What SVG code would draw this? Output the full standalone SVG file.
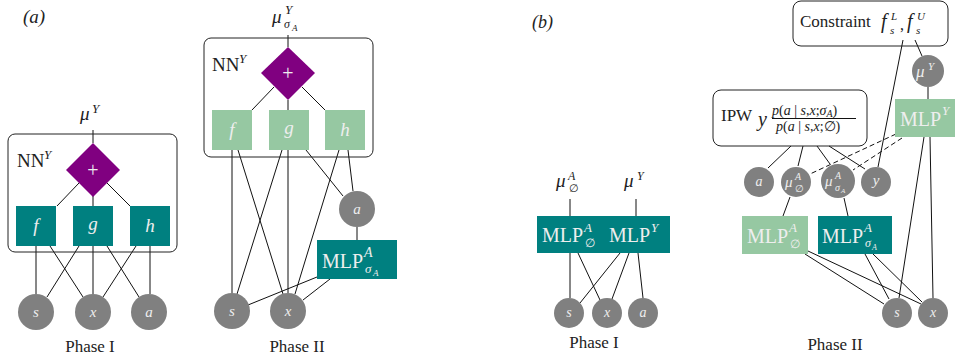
<svg xmlns="http://www.w3.org/2000/svg" width="955" height="358" viewBox="0 0 955 358" font-family="'Liberation Serif', 'DejaVu Serif', serif">
<style>
text{font-family:'Liberation Serif', 'DejaVu Serif', serif;fill:#222}
.it{font-style:italic}
.up{font-style:normal}
.w{fill:#eeeeee}
.teal{fill:#008080}
.lg{fill:#96c8a2}
.pur{fill:#800080}
.cir{fill:#808080}
.frame{fill:none;stroke:#222;stroke-width:1}
.ln{stroke:#111;stroke-width:1;fill:none}
.dash{stroke:#111;stroke-width:1;fill:none;stroke-dasharray:5,3}
.ph{font-size:17px}
</style>
<rect width="955" height="358" fill="#fff"/>

<text x="23" y="23" font-size="19" class="it">(a)</text>
<text x="532" y="28" font-size="18" class="it">(b)</text>

<!-- connectors -->
<g id="connectors">
  <line class="ln" x1="93" y1="130" x2="93" y2="143"/>
  <line class="ln" x1="79" y1="183" x2="57" y2="206"/>
  <line class="ln" x1="93" y1="196" x2="93" y2="206"/>
  <line class="ln" x1="107" y1="183" x2="130" y2="206"/>
  <line class="ln" x1="36" y1="246" x2="36" y2="294"/>
  <line class="ln" x1="50" y1="246" x2="83" y2="297"/>
  <line class="ln" x1="79" y1="246" x2="47" y2="297"/>
  <line class="ln" x1="93" y1="246" x2="93" y2="294"/>
  <line class="ln" x1="107" y1="246" x2="139" y2="297"/>
  <line class="ln" x1="136" y1="246" x2="103" y2="297"/>
  <line class="ln" x1="150" y1="246" x2="150" y2="294"/>
  <line class="ln" x1="288" y1="35" x2="288" y2="47"/>
  <line class="ln" x1="274" y1="87" x2="252" y2="110"/>
  <line class="ln" x1="288" y1="100" x2="288" y2="110"/>
  <line class="ln" x1="302" y1="87" x2="325" y2="110"/>
  <line class="ln" x1="232" y1="150" x2="232" y2="293"/>
  <line class="ln" x1="238" y1="150" x2="283" y2="294"/>
  <line class="ln" x1="282" y1="150" x2="237" y2="294"/>
  <line class="ln" x1="288" y1="150" x2="288" y2="293"/>
  <line class="ln" x1="306" y1="150" x2="343" y2="196"/>
  <line class="ln" x1="339" y1="150" x2="295" y2="294"/>
  <line class="ln" x1="348" y1="150" x2="353" y2="191"/>
  <line class="ln" x1="357" y1="227" x2="357" y2="240"/>
  <line class="ln" x1="317" y1="277" x2="248" y2="305"/>
  <line class="ln" x1="330" y1="279" x2="303" y2="300"/>
  <line class="ln" x1="570" y1="199" x2="570" y2="216"/>
  <line class="ln" x1="636" y1="199" x2="636" y2="216"/>
  <line class="ln" x1="570" y1="253" x2="570" y2="298"/>
  <line class="ln" x1="578" y1="253" x2="600" y2="300"/>
  <line class="ln" x1="620" y1="253" x2="580" y2="303"/>
  <line class="ln" x1="629" y1="253" x2="612" y2="299"/>
  <line class="ln" x1="638" y1="253" x2="643" y2="298"/>
  <line class="ln" x1="915" y1="40" x2="922" y2="56"/>
  <line class="ln" x1="928" y1="87" x2="928" y2="99"/>
  <line class="ln" x1="903" y1="40" x2="878" y2="167"/>
  <line class="ln" x1="791" y1="146" x2="768" y2="168"/>
  <line class="ln" x1="803" y1="146" x2="798" y2="166"/>
  <line class="ln" x1="817" y1="146" x2="830" y2="164"/>
  <line class="ln" x1="829" y1="146" x2="865" y2="169"/>
  <line class="dash" x1="896" y1="134" x2="810" y2="174"/>
  <line class="dash" x1="902" y1="138" x2="853" y2="170"/>
  <line class="ln" x1="924" y1="137" x2="899" y2="298"/>
  <line class="ln" x1="930" y1="137" x2="933" y2="298"/>
  <line class="ln" x1="790" y1="197" x2="783" y2="216"/>
  <line class="ln" x1="844" y1="198" x2="848" y2="216"/>
  <line class="ln" x1="805" y1="254" x2="884" y2="304"/>
  <line class="ln" x1="808" y1="251" x2="921" y2="304"/>
  <line class="ln" x1="865" y1="254" x2="889" y2="299"/>
  <line class="ln" x1="873" y1="254" x2="922" y2="302"/>
</g>

<g id="a1-muY">
  <text class="it" font-size="19"><tspan x="80" y="120">μ</tspan><tspan x="92" y="113" font-size="13">Y</tspan></text>
</g>
<g id="a1-NN">
  <rect class="frame" x="8" y="134" width="169" height="118" rx="7"/>
  <text font-size="19"><tspan x="17" y="167">NN</tspan><tspan x="44" y="159" font-size="13" class="it">Y</tspan></text>
</g>
<g id="a1-plus">
  <polygon class="pur" points="93,143 120,170 93,197 66,170"/>
  <text x="93" y="177" font-size="20" class="w" text-anchor="middle">+</text>
</g>
<g id="a1-f"><rect class="teal" x="16" y="206" width="40" height="40"/><text x="36" y="232" font-size="19" class="it w" text-anchor="middle">f</text></g>
<g id="a1-g"><rect class="teal" x="73" y="206" width="40" height="40"/><text x="93" y="230" font-size="19" class="it w" text-anchor="middle">g</text></g>
<g id="a1-h"><rect class="teal" x="130" y="206" width="40" height="40"/><text x="150" y="232" font-size="19" class="it w" text-anchor="middle">h</text></g>
<g id="a1-s"><circle class="cir" cx="36" cy="312" r="18"/><text x="36" y="317" font-size="15" class="it w" text-anchor="middle">s</text></g>
<g id="a1-x"><circle class="cir" cx="93" cy="312" r="18"/><text x="93" y="317" font-size="15" class="it w" text-anchor="middle">x</text></g>
<g id="a1-a"><circle class="cir" cx="149" cy="312" r="18"/><text x="149" y="317" font-size="15" class="it w" text-anchor="middle">a</text></g>
<text x="90" y="352" class="ph" text-anchor="middle">Phase I</text>

<g id="a2-mu">
  <text class="it" font-size="19"><tspan x="272" y="23">μ</tspan><tspan x="285" y="14" font-size="13">Y</tspan><tspan x="284" y="28" font-size="12">σ</tspan><tspan x="292" y="31" font-size="9">A</tspan></text>
</g>
<g id="a2-NN">
  <rect class="frame" x="204" y="38" width="169" height="119" rx="7"/>
  <text font-size="19"><tspan x="212" y="71">NN</tspan><tspan x="239" y="63" font-size="13" class="it">Y</tspan></text>
</g>
<g id="a2-plus">
  <polygon class="pur" points="288,47 315,73 288,100 261,73"/>
  <text x="288" y="80" font-size="20" class="w" text-anchor="middle">+</text>
</g>
<g id="a2-f"><rect class="lg" x="212" y="110" width="40" height="40"/><text x="232" y="136" font-size="19" class="it w" text-anchor="middle">f</text></g>
<g id="a2-g"><rect class="lg" x="269" y="110" width="40" height="40"/><text x="289" y="134" font-size="19" class="it w" text-anchor="middle">g</text></g>
<g id="a2-h"><rect class="lg" x="325" y="110" width="40" height="40"/><text x="345" y="136" font-size="19" class="it w" text-anchor="middle">h</text></g>
<g id="a2-a"><circle class="cir" cx="357" cy="209" r="18"/><text x="357" y="214" font-size="15" class="it w" text-anchor="middle">a</text></g>
<g id="a2-MLP">
  <rect class="teal" x="317" y="240" width="80" height="39"/>
  <text class="w" font-size="20"><tspan x="322" y="268">MLP</tspan><tspan x="364" y="257" font-size="14" class="it">A</tspan><tspan x="365" y="273" font-size="13" class="it">σ</tspan><tspan x="373" y="276" font-size="9" class="it">A</tspan></text>
</g>
<g id="a2-s"><circle class="cir" cx="232" cy="311" r="18"/><text x="232" y="316" font-size="15" class="it w" text-anchor="middle">s</text></g>
<g id="a2-x"><circle class="cir" cx="288" cy="311" r="18"/><text x="288" y="316" font-size="15" class="it w" text-anchor="middle">x</text></g>
<text x="297" y="352" class="ph" text-anchor="middle">Phase II</text>

<g id="b1-muA">
  <text class="it" font-size="19"><tspan x="556" y="187">μ</tspan><tspan x="568" y="180" font-size="12">A</tspan><tspan x="569" y="192" font-size="11" class="up">∅</tspan></text>
</g>
<g id="b1-muY">
  <text class="it" font-size="19"><tspan x="624" y="187">μ</tspan><tspan x="637" y="180" font-size="12">Y</tspan></text>
</g>
<g id="b1-MLP">
  <rect class="teal" x="537" y="216" width="133" height="37"/>
  <text class="w" font-size="20"><tspan x="542" y="242">MLP</tspan><tspan x="584" y="232" font-size="13" class="it">A</tspan><tspan x="585" y="247" font-size="12">∅</tspan></text>
  <text class="w" font-size="20"><tspan x="609" y="242">MLP</tspan><tspan x="651" y="232" font-size="13" class="it">Y</tspan></text>
</g>
<g id="b1-s"><circle class="cir" cx="569" cy="313" r="15"/><text x="569" y="317" font-size="14" class="it w" text-anchor="middle">s</text></g>
<g id="b1-x"><circle class="cir" cx="607" cy="313" r="15"/><text x="607" y="317" font-size="14" class="it w" text-anchor="middle">x</text></g>
<g id="b1-a"><circle class="cir" cx="643" cy="313" r="15"/><text x="643" y="317" font-size="14" class="it w" text-anchor="middle">a</text></g>
<text x="594" y="348" class="ph" text-anchor="middle">Phase I</text>

<g id="b2-constraint">
  <rect class="frame" x="793" y="1" width="155" height="45" rx="8"/>
  <text font-size="17"><tspan x="800" y="27">Constraint</tspan><tspan x="881" y="28" font-size="20" class="it">f</tspan><tspan x="891" y="20" font-size="11" class="it">L</tspan><tspan x="890" y="34" font-size="11" class="it">s</tspan><tspan x="900" y="30" font-size="16">,</tspan><tspan x="907" y="28" font-size="20" class="it">f</tspan><tspan x="917" y="20" font-size="11" class="it">U</tspan><tspan x="916" y="34" font-size="11" class="it">s</tspan></text>
</g>
<g id="b2-muY">
  <circle class="cir" cx="928" cy="71" r="16"/>
  <text class="it w" font-size="17"><tspan x="916" y="77">μ</tspan><tspan x="928" y="70" font-size="11">Y</tspan></text>
</g>
<g id="b2-MLPY">
  <rect class="lg" x="895" y="99" width="65" height="38"/>
  <text class="w" font-size="20"><tspan x="900" y="126">MLP</tspan><tspan x="942" y="115" font-size="13" class="it">Y</tspan></text>
</g>
<g id="b2-IPW">
  <rect class="frame" x="713" y="90" width="154" height="56" rx="8"/>
  <text x="721" y="121" font-size="17">IPW</text>
  <text x="758" y="126" font-size="20" class="it">y</text>
  <text x="772" y="115" font-size="14" class="it">p<tspan class="up">(</tspan>a<tspan class="up"> | </tspan>s<tspan class="up">,</tspan>x<tspan class="up">;</tspan>σ<tspan font-size="10" dy="2">A</tspan><tspan class="up" dy="-2">)</tspan></text>
  <line class="ln" x1="772" y1="118.5" x2="856" y2="118.5"/>
  <text x="776" y="131" font-size="14" class="it">p<tspan class="up">(</tspan>a<tspan class="up"> | </tspan>s<tspan class="up">,</tspan>x<tspan class="up">;∅)</tspan></text>
</g>
<g id="b2-a"><circle class="cir" cx="759" cy="182" r="15"/><text x="759" y="186" font-size="14" class="it w" text-anchor="middle">a</text></g>
<g id="b2-mu0">
  <circle class="cir" cx="796" cy="182" r="15"/>
  <text class="it w" font-size="15"><tspan x="785" y="187">μ</tspan><tspan x="795" y="180" font-size="10">A</tspan><tspan x="795" y="192" font-size="10" class="up">∅</tspan></text>
</g>
<g id="b2-musig">
  <circle class="cir" cx="838" cy="181" r="17"/>
  <text class="it w" font-size="15"><tspan x="825" y="186">μ</tspan><tspan x="835" y="179" font-size="10">A</tspan><tspan x="835" y="191" font-size="10">σ</tspan><tspan x="841" y="193" font-size="7">A</tspan></text>
</g>
<g id="b2-y"><circle class="cir" cx="876" cy="182" r="15"/><text x="876" y="185" font-size="15" class="it w" text-anchor="middle">y</text></g>
<g id="b2-MLP0">
  <rect class="lg" x="742" y="216" width="66" height="38"/>
  <text class="w" font-size="20"><tspan x="747" y="243">MLP</tspan><tspan x="789" y="232" font-size="13" class="it">A</tspan><tspan x="790" y="248" font-size="12">∅</tspan></text>
</g>
<g id="b2-MLPsig">
  <rect class="teal" x="818" y="216" width="74" height="38"/>
  <text class="w" font-size="20"><tspan x="822" y="243">MLP</tspan><tspan x="864" y="232" font-size="13" class="it">A</tspan><tspan x="865" y="247" font-size="12" class="it">σ</tspan><tspan x="872" y="250" font-size="8" class="it">A</tspan></text>
</g>
<g id="b2-s"><circle class="cir" cx="897" cy="313" r="15"/><text x="897" y="317" font-size="14" class="it w" text-anchor="middle">s</text></g>
<g id="b2-x"><circle class="cir" cx="933" cy="313" r="15"/><text x="933" y="317" font-size="14" class="it w" text-anchor="middle">x</text></g>
<text x="835" y="350" class="ph" text-anchor="middle">Phase II</text>
</svg>
